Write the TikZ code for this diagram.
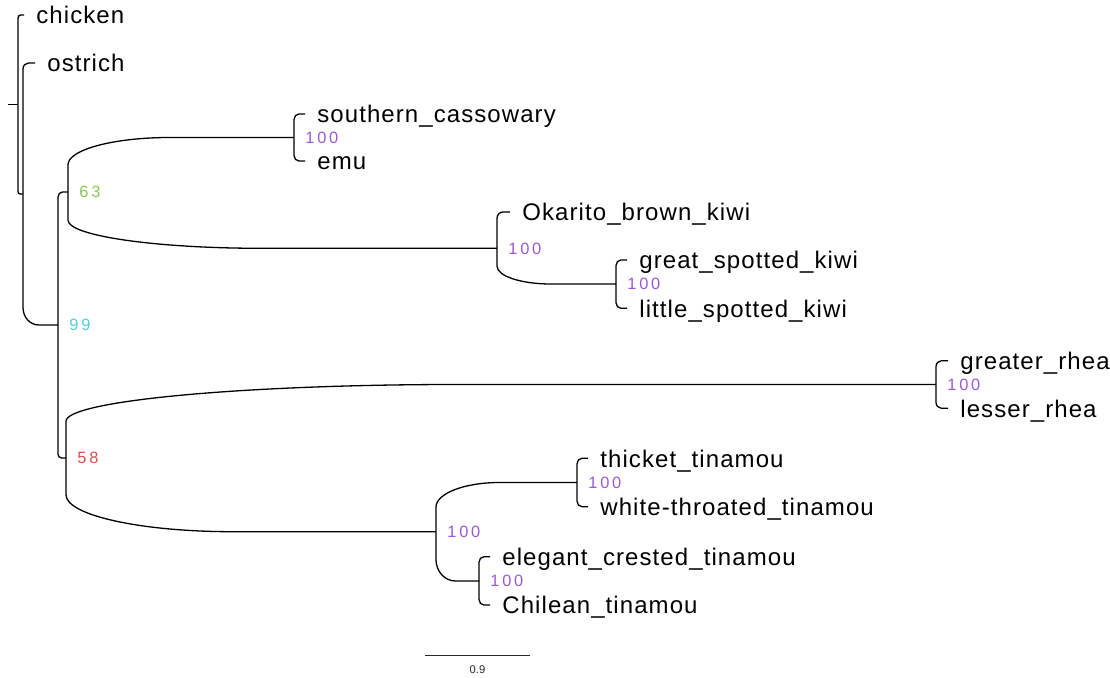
\documentclass[tikz,border=0pt]{standalone}
\usepackage{fontspec}
\setmainfont{Liberation Sans}
\usetikzlibrary{calc}

\definecolor{suppurple}{RGB}{155,89,214}
\definecolor{supgreen}{RGB}{139,201,84}
\definecolor{supcyan}{RGB}{84,208,212}
\definecolor{supred}{RGB}{217,80,80}
\definecolor{bargray}{RGB}{40,40,40}

\tikzset{
  branch/.style={line width=0.65pt},
  taxon/.style={anchor=west, inner xsep=6pt, inner ysep=0pt,
    text height=9pt, text depth=0pt,
    font=\fontsize{12}{14}\selectfont\addfontfeatures{LetterSpace=4.5}},
  support/.style={anchor=west, xshift=5.5pt, inner sep=0pt,
    text height=5.9pt, text depth=0pt,
    font=\fontsize{8.2}{10}\selectfont\addfontfeatures{LetterSpace=17}},
}

% curved branch: down the parent's line, a quarter ellipse, then out to the child
\newcommand\limb[2]{%
  \draw[branch] let \p1=(#1), \p2=(#2),
      \n1={0.45*(\x2-\x1)},
      \n2={min(0.5*abs(\y2-\y1),0.5*(\x2-\x1))*sign(\y1-\y2)}
    in (\p1) -- (\x1,{\y2+\n2})
       .. controls (\x1,{\y2+0.448*\n2}) and ({\x1+0.448*\n1},\y2)
       .. ({\x1+\n1},\y2) -- (\p2);}

\begin{document}
\begin{tikzpicture}[x=0.5pt,y=-0.5pt]
  \useasboundingbox (0,0) rectangle (1110,678);

  % inner nodes
  \coordinate (stem) at (8,104.5);
  \coordinate (root) at (18,104.5);
  \coordinate (nb) at (23,194);
  \coordinate (n99) at (58,325);
  \coordinate (n63) at (68,192);
  \coordinate (n58) at (66,458);
  \coordinate (ncas) at (294,137.5);
  \coordinate (nkiwi) at (497,248.3);
  \coordinate (nspot) at (616,284);
  \coordinate (nrhea) at (936,384.5);
  \coordinate (ntin) at (436,531.7);
  \coordinate (nthk) at (577,482.5);
  \coordinate (nele) at (479,581);

  % tips
  \node[taxon] (chicken) at (24,15) {chicken};
  \node[taxon] (ostrich) at (35,63) {ostrich};
  \node[taxon] (cass) at (305,114) {southern\_cassowary};
  \node[taxon] (emu) at (305,161) {emu};
  \node[taxon] (okarito) at (510,212) {Okarito\_brown\_kiwi};
  \node[taxon] (great) at (627,260) {great\_spotted\_kiwi};
  \node[taxon] (little) at (627,308.3) {little\_spotted\_kiwi};
  \node[taxon] (greater) at (948,360.7) {greater\_rhea};
  \node[taxon] (lesser) at (948,408.3) {lesser\_rhea};
  \node[taxon] (thicket) at (588,458.3) {thicket\_tinamou};
  \node[taxon] (white) at (588,506.7) {white-throated\_tinamou};
  \node[taxon] (elegant) at (490,556.7) {elegant\_crested\_tinamou};
  \node[taxon] (chilean) at (490,605) {Chilean\_tinamou};

  \draw[branch] (stem) -- (root);
  \limb{root}{chicken.west} \limb{root}{nb}
  \limb{nb}{ostrich.west} \limb{nb}{n99}
  \limb{n99}{n63} \limb{n99}{n58}
  \limb{n63}{ncas} \limb{n63}{nkiwi}
  \limb{ncas}{cass.west} \limb{ncas}{emu.west}
  \limb{nkiwi}{okarito.west} \limb{nkiwi}{nspot}
  \limb{nspot}{great.west} \limb{nspot}{little.west}
  \limb{n58}{nrhea} \limb{n58}{ntin}
  \limb{nrhea}{greater.west} \limb{nrhea}{lesser.west}
  \limb{ntin}{nthk} \limb{ntin}{nele}
  \limb{nthk}{thicket.west} \limb{nthk}{white.west}
  \limb{nele}{elegant.west} \limb{nele}{chilean.west}

  % support values
  \node[support, text=supcyan] (s99) at (n99) {99};
  \node[support, text=supgreen] (s63) at (n63) {63};
  \node[support, text=supred] (s58) at (n58) {58};
  \node[support, text=suppurple] (scas) at (ncas) {100};
  \node[support, text=suppurple] (skiwi) at (nkiwi) {100};
  \node[support, text=suppurple] (sspot) at (nspot) {100};
  \node[support, text=suppurple] (srhea) at (nrhea) {100};
  \node[support, text=suppurple] (stin) at (ntin) {100};
  \node[support, text=suppurple] (sthk) at (nthk) {100};
  \node[support, text=suppurple] (sele) at (nele) {100};

  % scale bar
  \coordinate (bar0) at (425,655.7);
  \coordinate (bar1) at (530,655.7);
  \draw[bargray, line width=0.7pt] (bar0) -- (bar1);
  \node[text=bargray, font=\fontsize{5.6}{7}\selectfont, inner sep=0pt] (barlab) at (477.5,670) {0.9};
\end{tikzpicture}
\end{document}
